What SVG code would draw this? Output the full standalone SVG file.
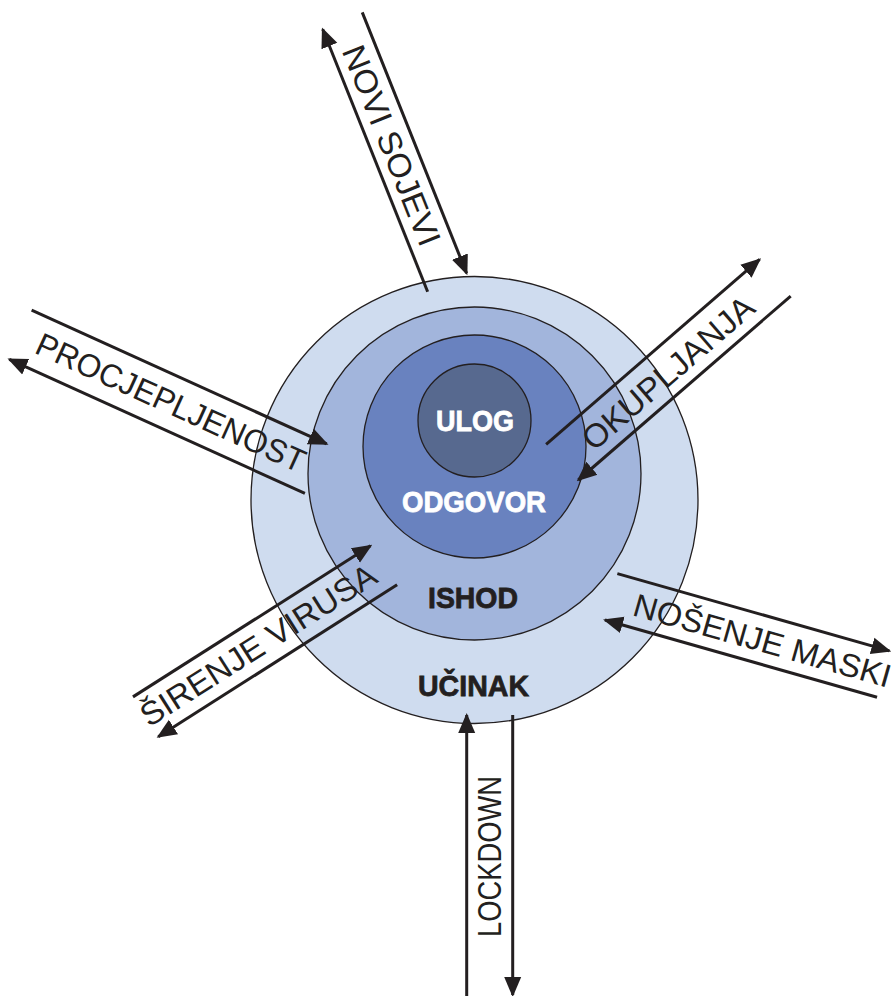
<svg xmlns="http://www.w3.org/2000/svg" width="894" height="996" viewBox="0 0 894 996">
<defs>
<marker id="ah" markerUnits="userSpaceOnUse" markerWidth="20" markerHeight="20" viewBox="0 0 20 20" refX="18" refY="10" orient="auto">
<path d="M0,1.5 L20,10 L0,18.5 z" fill="#231F20"/>
</marker>
<style>
.ring{stroke:#231F20;stroke-width:1.3}
.ln{stroke:#231F20;stroke-width:3;fill:none;marker-end:url(#ah)}
.lbl{font-family:"Liberation Sans",Arial,sans-serif;font-size:32.5px;fill:#231F20}
.core{font-family:"Liberation Sans",Arial,sans-serif;font-weight:bold;font-size:30px;text-anchor:middle;stroke-width:0.8}
</style>
</defs>
<rect width="894" height="996" fill="#ffffff"/>
<g id="ucinak"><circle class="ring" cx="474.5" cy="500" r="223.5" fill="#CFDCEF"/><text class="core" x="473.5" y="696" fill="#231F20" stroke="#231F20" textLength="111" lengthAdjust="spacingAndGlyphs">UČINAK</text></g>
<g id="ishod"><circle class="ring" cx="474.5" cy="473.5" r="166.5" fill="#A2B5DC"/><text class="core" x="473" y="608" fill="#231F20" stroke="#231F20" textLength="90" lengthAdjust="spacingAndGlyphs">ISHOD</text></g>
<g id="odgovor"><circle class="ring" cx="474.5" cy="446.5" r="111.5" fill="#6982BF"/><text class="core" x="474" y="511.5" fill="#ffffff" stroke="#ffffff" textLength="144" lengthAdjust="spacingAndGlyphs">ODGOVOR</text></g>
<g id="ulog"><circle class="ring" cx="474.5" cy="420.5" r="56.5" fill="#57698F"/><text class="core" x="475" y="431" fill="#ffffff" stroke="#ffffff" font-size="31.5" textLength="78" lengthAdjust="spacingAndGlyphs">ULOG</text></g>
<g id="connectors">
<g id="novi-sojevi" transform="translate(322.7,29.3) rotate(68.2)">
<line class="ln" x1="282.6" y1="0" x2="0" y2="0"/>
<line class="ln" x1="-1" y1="-43" x2="280" y2="-43"/>
<text class="lbl" x="27" y="-9.5" textLength="213" lengthAdjust="spacingAndGlyphs">NOVI SOJEVI</text>
</g>
<g id="procjepljenost" transform="translate(9.3,359.3) rotate(24.4)">
<line class="ln" x1="324.6" y1="0" x2="0" y2="0"/>
<line class="ln" x1="0" y1="-54" x2="324" y2="-54"/>
<text class="lbl" x="19" y="-16" textLength="292" lengthAdjust="spacingAndGlyphs">PROCJEPLJENOST</text>
</g>
<g id="okupljanja" transform="translate(578.3,480) rotate(-40.9)">
<line class="ln" x1="281" y1="0" x2="0" y2="0"/>
<line class="ln" x1="-1" y1="-48" x2="281.4" y2="-48"/>
<text class="lbl" x="30" y="-11" textLength="216" lengthAdjust="spacingAndGlyphs">OKUPLJANJA</text>
</g>
<g id="sirenje-virusa" transform="translate(158.3,736.7) rotate(-32.45)">
<line class="ln" x1="283" y1="0" x2="0" y2="0"/>
<line class="ln" x1="0" y1="-47.2" x2="281.5" y2="-47.2"/>
<text class="lbl" x="-3" y="-12.5" textLength="273" lengthAdjust="spacingAndGlyphs">ŠIRENJE VIRUSA</text>
</g>
<g id="nosenje-maski" transform="translate(605,620) rotate(15.85)">
<line class="ln" x1="282.8" y1="0" x2="0" y2="0"/>
<line class="ln" x1="-0.8" y1="-48" x2="282" y2="-48"/>
<text class="lbl" x="24" y="-12" textLength="266" lengthAdjust="spacingAndGlyphs">NOŠENJE MASKI</text>
</g>
<g id="lockdown" transform="translate(512.7,995) rotate(-90)">
<line class="ln" x1="280" y1="0" x2="0" y2="0"/>
<line class="ln" x1="-5" y1="-46" x2="280" y2="-46"/>
<text class="lbl" x="58" y="-11.5" textLength="161" lengthAdjust="spacingAndGlyphs">LOCKDOWN</text>
</g>
</g>
</svg>
